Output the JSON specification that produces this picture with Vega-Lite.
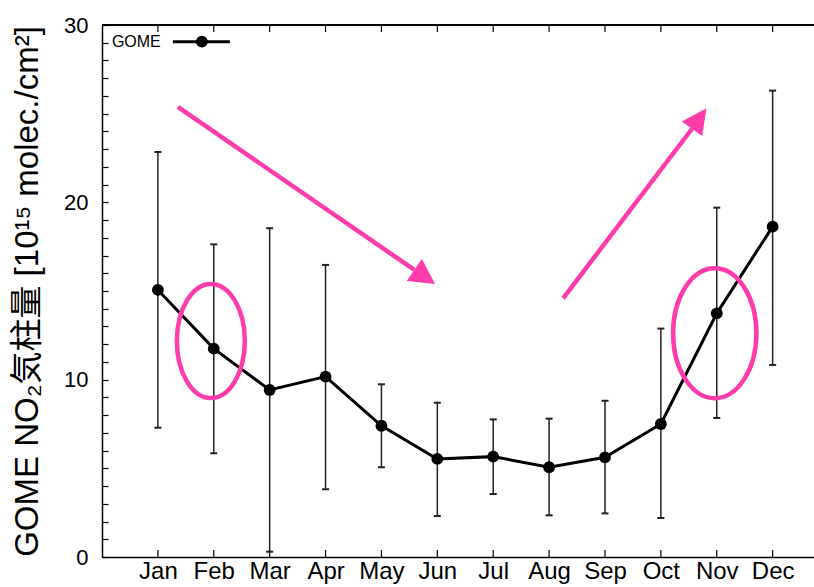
{
  "$schema": "https://vega.github.io/schema/vega-lite/v6.json",
  "width": 712,
  "height": 532,
  "autosize": {"type": "none"},
  "padding": {"left": 102, "top": 25, "right": 0, "bottom": 30},
  "background": "white",
  "config": {
    "view": {"stroke": null},
    "axis": {
      "grid": false,
      "ticks": false,
      "labelOverlap": false,
      "labelFlush": false,
      "domainColor": "#000",
      "domainWidth": 1.5,
      "labelColor": "#000",
      "labelFont": "Liberation Sans",
      "titleFont": "Liberation Sans, Noto Sans CJK JP",
      "titleColor": "#000"
    },
    "axisY": {
      "grid": true,
      "gridColor": "#000",
      "gridWidth": 1.2,
      "gridOpacity": 1,
      "gridDash": [6, 2000]
    }
  },
  "datasets": {
    "gome": [
      {"month": 1, "value": 15.06, "low": 7.29, "high": 22.84},
      {"month": 2, "value": 11.75, "low": 5.85, "high": 17.63},
      {"month": 3, "value": 9.42, "low": 0.30, "high": 18.54},
      {"month": 4, "value": 10.17, "low": 3.82, "high": 16.47},
      {"month": 5, "value": 7.40, "low": 5.06, "high": 9.74},
      {"month": 6, "value": 5.53, "low": 2.31, "high": 8.70},
      {"month": 7, "value": 5.66, "low": 3.55, "high": 7.76},
      {"month": 8, "value": 5.06, "low": 2.35, "high": 7.80},
      {"month": 9, "value": 5.62, "low": 2.46, "high": 8.81},
      {"month": 10, "value": 7.50, "low": 2.20, "high": 12.88},
      {"month": 11, "value": 13.74, "low": 7.84, "high": 19.70},
      {"month": 12, "value": 18.63, "low": 10.83, "high": 26.30}
    ],
    "arrows": [
      {"id": "down", "x1": 1.358, "y1": 25.38, "x2": 5.589, "y2": 16.19},
      {"id": "up", "x1": 8.251, "y1": 14.59, "x2": 10.557, "y2": 24.15}
    ],
    "ellipses": [
      {"id": "Feb", "month": 1.948, "value": 12.18},
      {"id": "Nov", "month": 10.964, "value": 12.62}
    ],
    "legend": [
      {"series": "GOME", "x": 0.177, "xs": 1.268, "xe": 2.288, "xd": 1.787, "y": 29.06}
    ]
  },
  "layer": [
    {
      "data": {"name": "gome"},
      "mark": {"type": "rule", "stroke": "#222", "strokeWidth": 1.5},
      "encoding": {
        "x": {"field": "month", "type": "quantitative", "scale": {"domain": [0, 12.74], "nice": false, "zero": false},
          "axis": {"orient": "bottom", "values": [1, 2, 3, 4, 5, 6, 7, 8, 9, 10, 11, 12], "labelExpr": "['Jan','Feb','Mar','Apr','May','Jun','Jul','Aug','Sep','Oct','Nov','Dec'][datum.value - 1]", "ticks": false, "grid": false, "labelPadding": 2, "labelFontSize": 24, "labelFlush": false, "labelOverlap": false, "title": null}},
        "y": {"field": "low", "type": "quantitative", "scale": {"domain": [0, 30], "nice": false, "zero": false},
          "axis": {"orient": "left", "values": [0, 1, 2, 3, 4, 5, 6, 7, 8, 9, 10, 11, 12, 13, 14, 15, 16, 17, 18, 19, 20, 21, 22, 23, 24, 25, 26, 27, 28, 29, 30], "labelExpr": "datum.value % 10 === 0 ? datum.label : ''", "ticks": false, "grid": true, "labelPadding": 14, "labelFontSize": 22, "labelFlush": false, "labelOverlap": false, "title": "GOME NO₂気柱量 [10¹⁵ molec./cm²]", "titleFontSize": 33, "titleFontWeight": "normal", "titleX": -75, "titleY": 266, "titleAngle": -90, "titleAlign": "center", "titleBaseline": "middle"}},
        "y2": {"field": "high"}
      }
    },
    {
      "data": {"name": "gome"},
      "mark": {"type": "line", "stroke": "#000", "strokeWidth": 3},
      "encoding": {
        "x": {"field": "month", "type": "quantitative", "scale": {"domain": [0, 12.74], "nice": false, "zero": false},
          "axis": {"orient": "bottom", "values": [1, 2, 3, 4, 5, 6, 7, 8, 9, 10, 11, 12], "labelExpr": "['Jan','Feb','Mar','Apr','May','Jun','Jul','Aug','Sep','Oct','Nov','Dec'][datum.value - 1]", "ticks": false, "grid": false, "labelPadding": 2, "labelFontSize": 24, "labelFlush": false, "labelOverlap": false, "title": null}},
        "y": {"field": "value", "type": "quantitative", "scale": {"domain": [0, 30], "nice": false, "zero": false},
          "axis": {"orient": "left", "values": [0, 1, 2, 3, 4, 5, 6, 7, 8, 9, 10, 11, 12, 13, 14, 15, 16, 17, 18, 19, 20, 21, 22, 23, 24, 25, 26, 27, 28, 29, 30], "labelExpr": "datum.value % 10 === 0 ? datum.label : ''", "ticks": false, "grid": true, "labelPadding": 14, "labelFontSize": 22, "labelFlush": false, "labelOverlap": false, "title": "GOME NO₂気柱量 [10¹⁵ molec./cm²]", "titleFontSize": 33, "titleFontWeight": "normal", "titleX": -75, "titleY": 266, "titleAngle": -90, "titleAlign": "center", "titleBaseline": "middle"}}
      }
    },
    {
      "data": {"name": "gome"},
      "mark": {"type": "rule", "stroke": "#000", "strokeWidth": 1.5},
      "encoding": {
        "x": {"datum": 0, "type": "quantitative", "scale": {"domain": [0, 12.74], "nice": false, "zero": false},
          "axis": {"orient": "bottom", "values": [1, 2, 3, 4, 5, 6, 7, 8, 9, 10, 11, 12], "labelExpr": "['Jan','Feb','Mar','Apr','May','Jun','Jul','Aug','Sep','Oct','Nov','Dec'][datum.value - 1]", "ticks": false, "grid": false, "labelPadding": 2, "labelFontSize": 24, "labelFlush": false, "labelOverlap": false, "title": null}},
        "x2": {"datum": 12.74},
        "y": {"datum": 30, "type": "quantitative", "scale": {"domain": [0, 30], "nice": false, "zero": false},
          "axis": {"orient": "left", "values": [0, 1, 2, 3, 4, 5, 6, 7, 8, 9, 10, 11, 12, 13, 14, 15, 16, 17, 18, 19, 20, 21, 22, 23, 24, 25, 26, 27, 28, 29, 30], "labelExpr": "datum.value % 10 === 0 ? datum.label : ''", "ticks": false, "grid": true, "labelPadding": 14, "labelFontSize": 22, "labelFlush": false, "labelOverlap": false, "title": "GOME NO₂気柱量 [10¹⁵ molec./cm²]", "titleFontSize": 33, "titleFontWeight": "normal", "titleX": -75, "titleY": 266, "titleAngle": -90, "titleAlign": "center", "titleBaseline": "middle"}}
      }
    },
    {
      "data": {"name": "gome"},
      "mark": {"type": "tick", "orient": "vertical", "color": "#000", "size": 7, "thickness": 1.2, "yOffset": 3.5, "opacity": 1},
      "encoding": {
        "x": {"field": "month", "type": "quantitative", "scale": {"domain": [0, 12.74], "nice": false, "zero": false},
          "axis": {"orient": "bottom", "values": [1, 2, 3, 4, 5, 6, 7, 8, 9, 10, 11, 12], "labelExpr": "['Jan','Feb','Mar','Apr','May','Jun','Jul','Aug','Sep','Oct','Nov','Dec'][datum.value - 1]", "ticks": false, "grid": false, "labelPadding": 2, "labelFontSize": 24, "labelFlush": false, "labelOverlap": false, "title": null}},
        "y": {"datum": 30, "type": "quantitative", "scale": {"domain": [0, 30], "nice": false, "zero": false},
          "axis": {"orient": "left", "values": [0, 1, 2, 3, 4, 5, 6, 7, 8, 9, 10, 11, 12, 13, 14, 15, 16, 17, 18, 19, 20, 21, 22, 23, 24, 25, 26, 27, 28, 29, 30], "labelExpr": "datum.value % 10 === 0 ? datum.label : ''", "ticks": false, "grid": true, "labelPadding": 14, "labelFontSize": 22, "labelFlush": false, "labelOverlap": false, "title": "GOME NO₂気柱量 [10¹⁵ molec./cm²]", "titleFontSize": 33, "titleFontWeight": "normal", "titleX": -75, "titleY": 266, "titleAngle": -90, "titleAlign": "center", "titleBaseline": "middle"}}
      }
    },
    {
      "data": {"name": "gome"},
      "mark": {"type": "tick", "orient": "vertical", "color": "#000", "size": 7, "thickness": 1.2, "yOffset": -3.5, "opacity": 1},
      "encoding": {
        "x": {"field": "month", "type": "quantitative", "scale": {"domain": [0, 12.74], "nice": false, "zero": false},
          "axis": {"orient": "bottom", "values": [1, 2, 3, 4, 5, 6, 7, 8, 9, 10, 11, 12], "labelExpr": "['Jan','Feb','Mar','Apr','May','Jun','Jul','Aug','Sep','Oct','Nov','Dec'][datum.value - 1]", "ticks": false, "grid": false, "labelPadding": 2, "labelFontSize": 24, "labelFlush": false, "labelOverlap": false, "title": null}},
        "y": {"datum": 0, "type": "quantitative", "scale": {"domain": [0, 30], "nice": false, "zero": false},
          "axis": {"orient": "left", "values": [0, 1, 2, 3, 4, 5, 6, 7, 8, 9, 10, 11, 12, 13, 14, 15, 16, 17, 18, 19, 20, 21, 22, 23, 24, 25, 26, 27, 28, 29, 30], "labelExpr": "datum.value % 10 === 0 ? datum.label : ''", "ticks": false, "grid": true, "labelPadding": 14, "labelFontSize": 22, "labelFlush": false, "labelOverlap": false, "title": "GOME NO₂気柱量 [10¹⁵ molec./cm²]", "titleFontSize": 33, "titleFontWeight": "normal", "titleX": -75, "titleY": 266, "titleAngle": -90, "titleAlign": "center", "titleBaseline": "middle"}}
      }
    },
    {
      "data": {"name": "gome"},
      "mark": {"type": "tick", "orient": "horizontal", "color": "#222", "size": 7, "thickness": 2, "opacity": 1},
      "encoding": {
        "x": {"field": "month", "type": "quantitative", "scale": {"domain": [0, 12.74], "nice": false, "zero": false},
          "axis": {"orient": "bottom", "values": [1, 2, 3, 4, 5, 6, 7, 8, 9, 10, 11, 12], "labelExpr": "['Jan','Feb','Mar','Apr','May','Jun','Jul','Aug','Sep','Oct','Nov','Dec'][datum.value - 1]", "ticks": false, "grid": false, "labelPadding": 2, "labelFontSize": 24, "labelFlush": false, "labelOverlap": false, "title": null}},
        "y": {"field": "low", "type": "quantitative", "scale": {"domain": [0, 30], "nice": false, "zero": false},
          "axis": {"orient": "left", "values": [0, 1, 2, 3, 4, 5, 6, 7, 8, 9, 10, 11, 12, 13, 14, 15, 16, 17, 18, 19, 20, 21, 22, 23, 24, 25, 26, 27, 28, 29, 30], "labelExpr": "datum.value % 10 === 0 ? datum.label : ''", "ticks": false, "grid": true, "labelPadding": 14, "labelFontSize": 22, "labelFlush": false, "labelOverlap": false, "title": "GOME NO₂気柱量 [10¹⁵ molec./cm²]", "titleFontSize": 33, "titleFontWeight": "normal", "titleX": -75, "titleY": 266, "titleAngle": -90, "titleAlign": "center", "titleBaseline": "middle"}}
      }
    },
    {
      "data": {"name": "gome"},
      "mark": {"type": "tick", "orient": "horizontal", "color": "#222", "size": 7, "thickness": 2, "opacity": 1},
      "encoding": {
        "x": {"field": "month", "type": "quantitative", "scale": {"domain": [0, 12.74], "nice": false, "zero": false},
          "axis": {"orient": "bottom", "values": [1, 2, 3, 4, 5, 6, 7, 8, 9, 10, 11, 12], "labelExpr": "['Jan','Feb','Mar','Apr','May','Jun','Jul','Aug','Sep','Oct','Nov','Dec'][datum.value - 1]", "ticks": false, "grid": false, "labelPadding": 2, "labelFontSize": 24, "labelFlush": false, "labelOverlap": false, "title": null}},
        "y": {"field": "high", "type": "quantitative", "scale": {"domain": [0, 30], "nice": false, "zero": false},
          "axis": {"orient": "left", "values": [0, 1, 2, 3, 4, 5, 6, 7, 8, 9, 10, 11, 12, 13, 14, 15, 16, 17, 18, 19, 20, 21, 22, 23, 24, 25, 26, 27, 28, 29, 30], "labelExpr": "datum.value % 10 === 0 ? datum.label : ''", "ticks": false, "grid": true, "labelPadding": 14, "labelFontSize": 22, "labelFlush": false, "labelOverlap": false, "title": "GOME NO₂気柱量 [10¹⁵ molec./cm²]", "titleFontSize": 33, "titleFontWeight": "normal", "titleX": -75, "titleY": 266, "titleAngle": -90, "titleAlign": "center", "titleBaseline": "middle"}}
      }
    },
    {
      "data": {"name": "gome"},
      "mark": {"type": "point", "shape": "circle", "filled": true, "color": "#000", "size": 140, "opacity": 1},
      "encoding": {
        "x": {"field": "month", "type": "quantitative", "scale": {"domain": [0, 12.74], "nice": false, "zero": false},
          "axis": {"orient": "bottom", "values": [1, 2, 3, 4, 5, 6, 7, 8, 9, 10, 11, 12], "labelExpr": "['Jan','Feb','Mar','Apr','May','Jun','Jul','Aug','Sep','Oct','Nov','Dec'][datum.value - 1]", "ticks": false, "grid": false, "labelPadding": 2, "labelFontSize": 24, "labelFlush": false, "labelOverlap": false, "title": null}},
        "y": {"field": "value", "type": "quantitative", "scale": {"domain": [0, 30], "nice": false, "zero": false},
          "axis": {"orient": "left", "values": [0, 1, 2, 3, 4, 5, 6, 7, 8, 9, 10, 11, 12, 13, 14, 15, 16, 17, 18, 19, 20, 21, 22, 23, 24, 25, 26, 27, 28, 29, 30], "labelExpr": "datum.value % 10 === 0 ? datum.label : ''", "ticks": false, "grid": true, "labelPadding": 14, "labelFontSize": 22, "labelFlush": false, "labelOverlap": false, "title": "GOME NO₂気柱量 [10¹⁵ molec./cm²]", "titleFontSize": 33, "titleFontWeight": "normal", "titleX": -75, "titleY": 266, "titleAngle": -90, "titleAlign": "center", "titleBaseline": "middle"}}
      }
    },
    {
      "data": {"name": "legend"},
      "mark": {"type": "rule", "stroke": "#000", "strokeWidth": 3},
      "encoding": {
        "x": {"field": "xs", "type": "quantitative", "scale": {"domain": [0, 12.74], "nice": false, "zero": false},
          "axis": {"orient": "bottom", "values": [1, 2, 3, 4, 5, 6, 7, 8, 9, 10, 11, 12], "labelExpr": "['Jan','Feb','Mar','Apr','May','Jun','Jul','Aug','Sep','Oct','Nov','Dec'][datum.value - 1]", "ticks": false, "grid": false, "labelPadding": 2, "labelFontSize": 24, "labelFlush": false, "labelOverlap": false, "title": null}},
        "x2": {"field": "xe"},
        "y": {"field": "y", "type": "quantitative", "scale": {"domain": [0, 30], "nice": false, "zero": false},
          "axis": {"orient": "left", "values": [0, 1, 2, 3, 4, 5, 6, 7, 8, 9, 10, 11, 12, 13, 14, 15, 16, 17, 18, 19, 20, 21, 22, 23, 24, 25, 26, 27, 28, 29, 30], "labelExpr": "datum.value % 10 === 0 ? datum.label : ''", "ticks": false, "grid": true, "labelPadding": 14, "labelFontSize": 22, "labelFlush": false, "labelOverlap": false, "title": "GOME NO₂気柱量 [10¹⁵ molec./cm²]", "titleFontSize": 33, "titleFontWeight": "normal", "titleX": -75, "titleY": 266, "titleAngle": -90, "titleAlign": "center", "titleBaseline": "middle"}}
      }
    },
    {
      "data": {"name": "legend"},
      "mark": {"type": "point", "shape": "circle", "filled": true, "color": "#000", "size": 140, "opacity": 1},
      "encoding": {
        "x": {"field": "xd", "type": "quantitative", "scale": {"domain": [0, 12.74], "nice": false, "zero": false},
          "axis": {"orient": "bottom", "values": [1, 2, 3, 4, 5, 6, 7, 8, 9, 10, 11, 12], "labelExpr": "['Jan','Feb','Mar','Apr','May','Jun','Jul','Aug','Sep','Oct','Nov','Dec'][datum.value - 1]", "ticks": false, "grid": false, "labelPadding": 2, "labelFontSize": 24, "labelFlush": false, "labelOverlap": false, "title": null}},
        "y": {"field": "y", "type": "quantitative", "scale": {"domain": [0, 30], "nice": false, "zero": false},
          "axis": {"orient": "left", "values": [0, 1, 2, 3, 4, 5, 6, 7, 8, 9, 10, 11, 12, 13, 14, 15, 16, 17, 18, 19, 20, 21, 22, 23, 24, 25, 26, 27, 28, 29, 30], "labelExpr": "datum.value % 10 === 0 ? datum.label : ''", "ticks": false, "grid": true, "labelPadding": 14, "labelFontSize": 22, "labelFlush": false, "labelOverlap": false, "title": "GOME NO₂気柱量 [10¹⁵ molec./cm²]", "titleFontSize": 33, "titleFontWeight": "normal", "titleX": -75, "titleY": 266, "titleAngle": -90, "titleAlign": "center", "titleBaseline": "middle"}}
      }
    },
    {
      "data": {"name": "legend"},
      "mark": {"type": "text", "align": "left", "baseline": "middle", "font": "Liberation Sans", "fontSize": 16, "color": "#000"},
      "encoding": {
        "x": {"field": "x", "type": "quantitative", "scale": {"domain": [0, 12.74], "nice": false, "zero": false},
          "axis": {"orient": "bottom", "values": [1, 2, 3, 4, 5, 6, 7, 8, 9, 10, 11, 12], "labelExpr": "['Jan','Feb','Mar','Apr','May','Jun','Jul','Aug','Sep','Oct','Nov','Dec'][datum.value - 1]", "ticks": false, "grid": false, "labelPadding": 2, "labelFontSize": 24, "labelFlush": false, "labelOverlap": false, "title": null}},
        "y": {"field": "y", "type": "quantitative", "scale": {"domain": [0, 30], "nice": false, "zero": false},
          "axis": {"orient": "left", "values": [0, 1, 2, 3, 4, 5, 6, 7, 8, 9, 10, 11, 12, 13, 14, 15, 16, 17, 18, 19, 20, 21, 22, 23, 24, 25, 26, 27, 28, 29, 30], "labelExpr": "datum.value % 10 === 0 ? datum.label : ''", "ticks": false, "grid": true, "labelPadding": 14, "labelFontSize": 22, "labelFlush": false, "labelOverlap": false, "title": "GOME NO₂気柱量 [10¹⁵ molec./cm²]", "titleFontSize": 33, "titleFontWeight": "normal", "titleX": -75, "titleY": 266, "titleAngle": -90, "titleAlign": "center", "titleBaseline": "middle"}},
        "text": {"field": "series"}
      }
    },
    {
      "data": {"name": "arrows"},
      "mark": {"type": "rule", "stroke": "#ff3cac", "strokeWidth": 4.5},
      "encoding": {
        "x": {"field": "x1", "type": "quantitative", "scale": {"domain": [0, 12.74], "nice": false, "zero": false},
          "axis": {"orient": "bottom", "values": [1, 2, 3, 4, 5, 6, 7, 8, 9, 10, 11, 12], "labelExpr": "['Jan','Feb','Mar','Apr','May','Jun','Jul','Aug','Sep','Oct','Nov','Dec'][datum.value - 1]", "ticks": false, "grid": false, "labelPadding": 2, "labelFontSize": 24, "labelFlush": false, "labelOverlap": false, "title": null}},
        "y": {"field": "y1", "type": "quantitative", "scale": {"domain": [0, 30], "nice": false, "zero": false},
          "axis": {"orient": "left", "values": [0, 1, 2, 3, 4, 5, 6, 7, 8, 9, 10, 11, 12, 13, 14, 15, 16, 17, 18, 19, 20, 21, 22, 23, 24, 25, 26, 27, 28, 29, 30], "labelExpr": "datum.value % 10 === 0 ? datum.label : ''", "ticks": false, "grid": true, "labelPadding": 14, "labelFontSize": 22, "labelFlush": false, "labelOverlap": false, "title": "GOME NO₂気柱量 [10¹⁵ molec./cm²]", "titleFontSize": 33, "titleFontWeight": "normal", "titleX": -75, "titleY": 266, "titleAngle": -90, "titleAlign": "center", "titleBaseline": "middle"}},
        "x2": {"field": "x2"},
        "y2": {"field": "y2"}
      }
    },
    {
      "data": {"name": "arrows"},
      "transform": [{"filter": "datum.id === 'down'"}],
      "mark": {"type": "point", "shape": "M0,-1L0.54,0L-0.54,0Z", "filled": true, "color": "#ff3cac", "size": 2500, "angle": 124.3, "opacity": 1, "strokeWidth": 0},
      "encoding": {
        "x": {"field": "x2", "type": "quantitative", "scale": {"domain": [0, 12.74], "nice": false, "zero": false},
          "axis": {"orient": "bottom", "values": [1, 2, 3, 4, 5, 6, 7, 8, 9, 10, 11, 12], "labelExpr": "['Jan','Feb','Mar','Apr','May','Jun','Jul','Aug','Sep','Oct','Nov','Dec'][datum.value - 1]", "ticks": false, "grid": false, "labelPadding": 2, "labelFontSize": 24, "labelFlush": false, "labelOverlap": false, "title": null}},
        "y": {"field": "y2", "type": "quantitative", "scale": {"domain": [0, 30], "nice": false, "zero": false},
          "axis": {"orient": "left", "values": [0, 1, 2, 3, 4, 5, 6, 7, 8, 9, 10, 11, 12, 13, 14, 15, 16, 17, 18, 19, 20, 21, 22, 23, 24, 25, 26, 27, 28, 29, 30], "labelExpr": "datum.value % 10 === 0 ? datum.label : ''", "ticks": false, "grid": true, "labelPadding": 14, "labelFontSize": 22, "labelFlush": false, "labelOverlap": false, "title": "GOME NO₂気柱量 [10¹⁵ molec./cm²]", "titleFontSize": 33, "titleFontWeight": "normal", "titleX": -75, "titleY": 266, "titleAngle": -90, "titleAlign": "center", "titleBaseline": "middle"}}
      }
    },
    {
      "data": {"name": "arrows"},
      "transform": [{"filter": "datum.id === 'up'"}],
      "mark": {"type": "point", "shape": "M0,-1L0.5,0L-0.5,0Z", "filled": true, "color": "#ff3cac", "size": 2500, "angle": 35.3, "opacity": 1, "strokeWidth": 0},
      "encoding": {
        "x": {"field": "x2", "type": "quantitative", "scale": {"domain": [0, 12.74], "nice": false, "zero": false},
          "axis": {"orient": "bottom", "values": [1, 2, 3, 4, 5, 6, 7, 8, 9, 10, 11, 12], "labelExpr": "['Jan','Feb','Mar','Apr','May','Jun','Jul','Aug','Sep','Oct','Nov','Dec'][datum.value - 1]", "ticks": false, "grid": false, "labelPadding": 2, "labelFontSize": 24, "labelFlush": false, "labelOverlap": false, "title": null}},
        "y": {"field": "y2", "type": "quantitative", "scale": {"domain": [0, 30], "nice": false, "zero": false},
          "axis": {"orient": "left", "values": [0, 1, 2, 3, 4, 5, 6, 7, 8, 9, 10, 11, 12, 13, 14, 15, 16, 17, 18, 19, 20, 21, 22, 23, 24, 25, 26, 27, 28, 29, 30], "labelExpr": "datum.value % 10 === 0 ? datum.label : ''", "ticks": false, "grid": true, "labelPadding": 14, "labelFontSize": 22, "labelFlush": false, "labelOverlap": false, "title": "GOME NO₂気柱量 [10¹⁵ molec./cm²]", "titleFontSize": 33, "titleFontWeight": "normal", "titleX": -75, "titleY": 266, "titleAngle": -90, "titleAlign": "center", "titleBaseline": "middle"}}
      }
    },
    {
      "data": {"name": "ellipses"},
      "transform": [{"filter": "datum.id === 'Feb'"}],
      "mark": {"type": "point", "shape": "M0.596,0C0.596,0.552,0.329,1,0,1C-0.329,1,-0.596,0.552,-0.596,0C-0.596,-0.552,-0.329,-1,0,-1C0.329,-1,0.596,-0.552,0.596,0Z", "filled": false, "stroke": "#ff3cac", "strokeWidth": 4.5, "size": 12996, "opacity": 1},
      "encoding": {
        "x": {"field": "month", "type": "quantitative", "scale": {"domain": [0, 12.74], "nice": false, "zero": false},
          "axis": {"orient": "bottom", "values": [1, 2, 3, 4, 5, 6, 7, 8, 9, 10, 11, 12], "labelExpr": "['Jan','Feb','Mar','Apr','May','Jun','Jul','Aug','Sep','Oct','Nov','Dec'][datum.value - 1]", "ticks": false, "grid": false, "labelPadding": 2, "labelFontSize": 24, "labelFlush": false, "labelOverlap": false, "title": null}},
        "y": {"field": "value", "type": "quantitative", "scale": {"domain": [0, 30], "nice": false, "zero": false},
          "axis": {"orient": "left", "values": [0, 1, 2, 3, 4, 5, 6, 7, 8, 9, 10, 11, 12, 13, 14, 15, 16, 17, 18, 19, 20, 21, 22, 23, 24, 25, 26, 27, 28, 29, 30], "labelExpr": "datum.value % 10 === 0 ? datum.label : ''", "ticks": false, "grid": true, "labelPadding": 14, "labelFontSize": 22, "labelFlush": false, "labelOverlap": false, "title": "GOME NO₂気柱量 [10¹⁵ molec./cm²]", "titleFontSize": 33, "titleFontWeight": "normal", "titleX": -75, "titleY": 266, "titleAngle": -90, "titleAlign": "center", "titleBaseline": "middle"}}
      }
    },
    {
      "data": {"name": "ellipses"},
      "transform": [{"filter": "datum.id === 'Nov'"}],
      "mark": {"type": "point", "shape": "M0.641,0C0.641,0.552,0.354,1,0,1C-0.354,1,-0.641,0.552,-0.641,0C-0.641,-0.552,-0.354,-1,0,-1C0.354,-1,0.641,-0.552,0.641,0Z", "filled": false, "stroke": "#ff3cac", "strokeWidth": 4.5, "size": 16900, "opacity": 1},
      "encoding": {
        "x": {"field": "month", "type": "quantitative", "scale": {"domain": [0, 12.74], "nice": false, "zero": false},
          "axis": {"orient": "bottom", "values": [1, 2, 3, 4, 5, 6, 7, 8, 9, 10, 11, 12], "labelExpr": "['Jan','Feb','Mar','Apr','May','Jun','Jul','Aug','Sep','Oct','Nov','Dec'][datum.value - 1]", "ticks": false, "grid": false, "labelPadding": 2, "labelFontSize": 24, "labelFlush": false, "labelOverlap": false, "title": null}},
        "y": {"field": "value", "type": "quantitative", "scale": {"domain": [0, 30], "nice": false, "zero": false},
          "axis": {"orient": "left", "values": [0, 1, 2, 3, 4, 5, 6, 7, 8, 9, 10, 11, 12, 13, 14, 15, 16, 17, 18, 19, 20, 21, 22, 23, 24, 25, 26, 27, 28, 29, 30], "labelExpr": "datum.value % 10 === 0 ? datum.label : ''", "ticks": false, "grid": true, "labelPadding": 14, "labelFontSize": 22, "labelFlush": false, "labelOverlap": false, "title": "GOME NO₂気柱量 [10¹⁵ molec./cm²]", "titleFontSize": 33, "titleFontWeight": "normal", "titleX": -75, "titleY": 266, "titleAngle": -90, "titleAlign": "center", "titleBaseline": "middle"}}
      }
    }
  ]
}
